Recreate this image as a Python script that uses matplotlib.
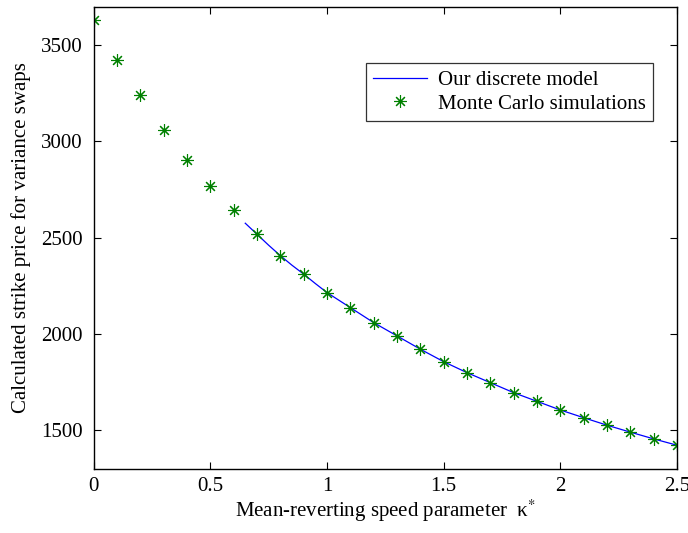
import numpy as np
import matplotlib
matplotlib.use('Agg')
import matplotlib.pyplot as plt

plt.rcParams['font.family'] = ['Liberation Serif', 'DejaVu Serif']
plt.rcParams['mathtext.fontset'] = 'stix'

# Monte Carlo simulation results
mc_kappa = [0.0, 0.1, 0.2, 0.3, 0.4, 0.5, 0.6, 0.7, 0.8, 0.9, 1.0, 1.1, 1.2,
            1.3, 1.4, 1.5, 1.6, 1.7, 1.8, 1.9, 2.0, 2.1, 2.2, 2.3, 2.4, 2.5]
mc_price = [3628, 3424, 3242, 3060, 2904, 2769, 2643, 2518, 2407, 2311, 2215,
            2137, 2059, 1990, 1921, 1856, 1799, 1747, 1695, 1650, 1605, 1565,
            1526, 1490, 1455, 1422]

# discrete model curve
model_kappa = [0.65, 0.7, 0.75, 0.8, 0.85, 0.9, 0.95, 1.0, 1.1, 1.2, 1.3, 1.4,
               1.5, 1.6, 1.7, 1.8, 1.9, 2.0, 2.1, 2.2, 2.3, 2.4, 2.5]
model_price = [2575, 2518, 2461, 2407, 2357, 2311, 2262, 2215, 2137, 2059, 1990,
               1921, 1856, 1799, 1747, 1695, 1650, 1605, 1565, 1526, 1490, 1455,
               1422]

fig = plt.figure(figsize=(6.88, 5.33), dpi=100)
ax = fig.add_axes([0.136, 0.1206, 0.848, 0.867])

ax.plot(model_kappa, model_price, color='blue', linewidth=0.9,
        label='Our discrete model')
ax.plot(mc_kappa, mc_price, linestyle='none', marker=(8, 2, 0),
        markersize=9, markeredgewidth=0.8, color=(0, 0.5, 0),
        label='Monte Carlo simulations')

ax.set_xlim(0, 2.5)
ax.set_ylim(1300, 3700)
ax.set_xticks([0, 0.5, 1, 1.5, 2, 2.5])
ax.set_xticklabels(['0', '0.5', '1', '1.5', '2', '2.5'])
ax.set_yticks([1500, 2000, 2500, 3000, 3500])
ax.tick_params(direction='in', top=True, right=True, labelsize=15,
               length=5, width=0.8, pad=8)
ax.tick_params(axis='x', pad=6)
for s in ax.spines.values():
    s.set_linewidth(1.0)

ax.set_xlabel('Mean-reverting speed parameter  κ$^{*}$', fontsize=15,
              labelpad=1)
ax.set_ylabel('Calculated strike price for variance swaps', fontsize=15,
              labelpad=7)

leg = ax.legend(loc='upper right', bbox_to_anchor=(0.959, 0.878), fontsize=15,
                frameon=True, fancybox=False, edgecolor='black',
                borderpad=0.35, handlelength=2.6, handletextpad=0.5,
                labelspacing=0.2, borderaxespad=0)
leg.get_frame().set_linewidth(0.9)

fig.savefig('out.png', dpi=100)
